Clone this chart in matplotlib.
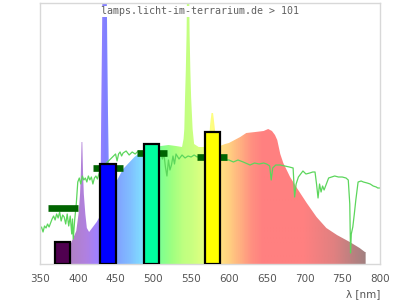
import numpy as np
import matplotlib.pyplot as plt
from matplotlib.colors import LinearSegmentedColormap
from matplotlib.patches import Polygon

# lamp spectrum (relative height)
spec_nm = [386, 390, 394, 398, 401, 403, 404, 405, 406, 407, 408, 410, 412, 415, 420, 425, 428,
           430, 431, 432, 433, 436, 438, 439, 440, 441, 443, 450, 455, 460, 465, 470, 475, 480,
           485, 490, 500, 510, 520, 530, 538, 540, 541, 542, 543, 544, 545, 546, 547, 548, 549,
           550, 552, 554, 560, 570, 574, 575, 576, 577, 579, 580, 581, 583, 588, 595, 600, 610,
           615, 623, 635, 646, 652, 657, 661, 664, 668, 672, 681, 690, 703, 716, 729, 743, 760,
           773, 780, 781]
spec_val = [15, 19, 26, 33, 50, 70, 90, 122, 122, 90, 70, 50, 36, 32, 37, 42, 46,
            60, 150, 220, 300, 400, 300, 220, 150, 100, 75, 81, 88, 95, 99, 103, 107, 110,
            113, 115, 117, 118, 119, 118, 117, 125, 135, 167, 194, 230, 300, 400, 300, 230, 194,
            167, 135, 120, 117, 117, 125, 138, 145, 151, 151, 145, 138, 125, 118, 120, 121, 125,
            127, 131, 132, 133, 135, 133, 129, 124, 110, 101, 87, 76, 61, 47, 36, 29, 22,
            16, 12, 12]

# sunlight reference (green line)
sun_nm = [350, 352, 354, 356, 358, 360, 362, 364, 366, 368, 370, 372, 374, 376, 378, 380, 382,
          384, 386, 388, 390, 392, 393, 394, 396, 398, 400, 402, 404, 406, 408, 410, 412, 414,
          416, 418, 420, 422, 424, 426, 428, 430, 450, 452, 454, 456, 458, 460, 464, 468, 472,
          476, 480, 484, 488, 492, 496, 500, 504, 508, 510, 512, 514, 516, 518, 520, 522, 524,
          526, 528, 530, 534, 538, 542, 546, 550, 554, 558, 562, 566, 570, 580, 590, 600, 606,
          612, 619, 625, 628, 634, 640, 646, 650, 654, 656, 658, 662, 668, 674, 680, 685, 687,
          689, 692, 695, 698, 702, 707, 711, 714, 716, 718, 720, 722, 724, 726, 729, 732, 736,
          740, 745, 750, 755, 758, 760, 761, 762, 764, 766, 768, 771, 775, 778, 783, 787, 791,
          795, 797, 800]
sun_val = [35, 37, 32, 38, 36, 40, 37, 41, 45, 48, 44, 50, 46, 52, 43, 49, 47,
           40, 50, 38, 48, 30, 45, 25, 45, 60, 82, 86, 80, 88, 84, 86, 82, 88,
           84, 87, 80, 86, 88, 85, 90, 95, 110, 103, 110, 112, 108, 111, 113, 109, 112,
           110, 113, 111, 112, 110, 113, 111, 112, 110, 112, 105, 110, 97, 88, 104, 94, 99,
           108, 100, 110, 105, 109, 106, 108, 107, 109, 107, 108, 106, 105, 105, 104, 104, 102,
           104, 102, 100, 99, 101, 100, 101, 100, 98, 84, 96, 99, 99, 98, 97, 96, 67,
           80, 87, 90, 93, 90, 91, 92, 92, 80, 66, 80, 72, 78, 74, 80, 86, 87,
           88, 87, 87, 86, 84, 60, 11, 30, 37, 50, 64, 82, 83, 82, 81, 80, 78,
           77, 76, 76]

# LED channels
led_nm = [380, 440, 498, 578]
led_val = [22, 100, 120, 132]
led_colors = ['#500050', '#0000ff', '#00ffa0', '#ffff00']
mark_val = [56, 96, 111, 107]

fig = plt.figure(figsize=(4, 3), dpi=100)
ax = fig.add_axes([0.1, 0.12, 0.85, 0.87])

# spectrum fill with wavelength colours
lo, hi = 386, 782
anchors = [(386, '#b080c0'), (410, '#b080e0'), (425, '#a080ff'), (436, '#8080ff'),
           (450, '#80a0ff'), (470, '#80c0ff'), (485, '#80e0ff'), (500, '#80ffd0'),
           (510, '#80ff90'), (525, '#a0ff80'), (540, '#c0ff80'), (550, '#c8ff80'),
           (565, '#e0ff80'), (578, '#ffff80'), (590, '#ffe080'), (600, '#ffd080'),
           (615, '#ffb080'), (630, '#ff9080'), (645, '#ff8080'), (700, '#ff8080'),
           (740, '#e08080'), (782, '#a08080')]
cmap = LinearSegmentedColormap.from_list(
    'spec', [((n - lo) / (hi - lo), c) for n, c in anchors])
verts = [(spec_nm[0], 0)] + list(zip(spec_nm, spec_val)) + [(spec_nm[-1], 0)]
poly = Polygon(verts, closed=True, facecolor='none', edgecolor='none')
ax.add_patch(poly)
grad = np.linspace(0, 1, 400).reshape(1, -1)
im = ax.imshow(grad, cmap=cmap, aspect='auto', extent=[lo, hi, 0, 420],
               origin='lower', zorder=1)
im.set_clip_path(poly)

ax.plot(sun_nm, sun_val, color='#5cd65c', lw=0.9, zorder=2)

ax.hlines(mark_val, [n - 20 for n in led_nm], [n + 20 for n in led_nm],
          color='#006400', lw=4.8, zorder=3)
ax.bar(led_nm, led_val, width=20, color=led_colors, edgecolor='black',
       linewidth=1.6, zorder=4)

ax.set_xlim(350, 800)
ax.set_ylim(0, 261)
ax.set_xticks(range(350, 801, 50))
ax.set_yticks([])
ax.tick_params(axis='x', length=0, pad=7, labelsize=7.5, labelcolor='#555555')
for s in ax.spines.values():
    s.set_color('#d8d8d8')
    s.set_linewidth(1)
ax.set_xlabel('λ [nm]', loc='right', fontsize=7.5, color='#555555', labelpad=4)

fig.text(0.5, 0.962, 'lamps.licht-im-terrarium.de > 101', ha='center', va='center',
         family='DejaVu Sans Mono', fontsize=7.2, color='#606060', zorder=5,
         bbox=dict(facecolor='white', edgecolor='none', pad=0.5))

fig.savefig('out.png', dpi=100)
